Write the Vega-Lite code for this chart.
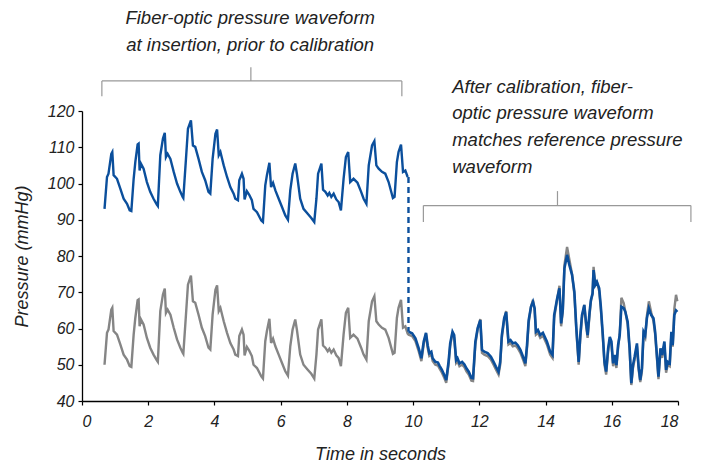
{
  "$schema": "https://vega.github.io/schema/vega-lite/v6.json",
  "autosize": {"type": "none"},
  "padding": {"left": 82, "top": 111, "right": 28, "bottom": 62},
  "width": 596,
  "height": 290,
  "background": "white",
  "config": {
    "view": {"stroke": null},
    "font": "Liberation Sans",
    "axis": {
      "grid": false,
      "domainColor": "#000000",
      "domainWidth": 1.3,
      "tickColor": "#000000",
      "tickWidth": 1.2,
      "tickSize": 4,
      "labelFont": "Liberation Sans",
      "labelFontStyle": "italic",
      "labelFontSize": 16,
      "labelColor": "#222222",
      "titleFont": "Liberation Sans",
      "titleFontStyle": "italic",
      "titleFontWeight": "normal",
      "titleFontSize": 18,
      "titleColor": "#222222"
    },
    "axisY": {"labelOverlap": false, "labelFlush": false, "labelBound": false}
  },
  "datasets": {
    "pre": [
      {"t":0.68,"p":93.0},{"t":0.755,"p":101.8},{"t":0.80,"p":102.7},{"t":0.885,"p":108.2},{"t":0.915,"p":108.7},{"t":0.955,"p":102.3},{"t":1.057,"p":101.3},{"t":1.157,"p":98.6},{"t":1.257,"p":95.8},{"t":1.36,"p":94.4},{"t":1.44,"p":92.6},{"t":1.49,"p":92.4},{"t":1.56,"p":101.3},{"t":1.61,"p":105.9},{"t":1.68,"p":110.8},{"t":1.71,"p":111.0},{"t":1.74,"p":103.6},{"t":1.78,"p":105.5},{"t":1.86,"p":104.1},{"t":1.96,"p":100.4},{"t":2.06,"p":97.7},{"t":2.16,"p":95.8},{"t":2.26,"p":94.2},{"t":2.29,"p":93.8},{"t":2.365,"p":107.8},{"t":2.445,"p":112.4},{"t":2.50,"p":114.0},{"t":2.535,"p":107.3},{"t":2.585,"p":108.2},{"t":2.67,"p":106.8},{"t":2.77,"p":103.2},{"t":2.87,"p":100.0},{"t":2.97,"p":97.7},{"t":3.04,"p":96.3},{"t":3.06,"p":96.0},{"t":3.14,"p":106.8},{"t":3.20,"p":115.1},{"t":3.29,"p":117.4},{"t":3.35,"p":110.5},{"t":3.42,"p":110.1},{"t":3.52,"p":106.8},{"t":3.62,"p":103.2},{"t":3.72,"p":100.9},{"t":3.82,"p":97.7},{"t":3.875,"p":97.2},{"t":3.945,"p":106.8},{"t":4.03,"p":113.7},{"t":4.08,"p":114.9},{"t":4.13,"p":107.8},{"t":4.18,"p":108.7},{"t":4.28,"p":105.0},{"t":4.38,"p":101.8},{"t":4.48,"p":99.0},{"t":4.58,"p":97.2},{"t":4.63,"p":95.8},{"t":4.71,"p":95.4},{"t":4.75,"p":100.9},{"t":4.83,"p":102.7},{"t":4.88,"p":101.3},{"t":4.91,"p":95.6},{"t":4.98,"p":97.9},{"t":5.05,"p":96.9},{"t":5.13,"p":95.4},{"t":5.18,"p":93.0},{"t":5.285,"p":92.1},{"t":5.415,"p":89.8},{"t":5.465,"p":89.4},{"t":5.535,"p":99.5},{"t":5.585,"p":102.3},{"t":5.66,"p":105.7},{"t":5.71,"p":99.0},{"t":5.77,"p":100.2},{"t":5.84,"p":98.1},{"t":5.94,"p":95.8},{"t":6.04,"p":93.5},{"t":6.14,"p":91.2},{"t":6.22,"p":90.0},{"t":6.29,"p":98.1},{"t":6.36,"p":102.7},{"t":6.44,"p":105.5},{"t":6.49,"p":102.7},{"t":6.59,"p":95.8},{"t":6.69,"p":93.0},{"t":6.81,"p":91.7},{"t":6.925,"p":90.5},{"t":7.015,"p":89.4},{"t":7.08,"p":95.8},{"t":7.13,"p":102.7},{"t":7.23,"p":105.5},{"t":7.28,"p":98.3},{"t":7.35,"p":97.7},{"t":7.42,"p":96.7},{"t":7.47,"p":97.4},{"t":7.53,"p":96.3},{"t":7.60,"p":97.2},{"t":7.68,"p":95.6},{"t":7.75,"p":94.9},{"t":7.82,"p":92.6},{"t":7.90,"p":101.3},{"t":7.97,"p":107.3},{"t":8.04,"p":108.7},{"t":8.10,"p":100.4},{"t":8.20,"p":101.3},{"t":8.32,"p":100.2},{"t":8.43,"p":97.7},{"t":8.505,"p":95.8},{"t":8.59,"p":94.4},{"t":8.66,"p":105.0},{"t":8.76,"p":110.5},{"t":8.83,"p":111.7},{"t":8.89,"p":105.0},{"t":8.96,"p":104.1},{"t":9.06,"p":103.2},{"t":9.16,"p":102.7},{"t":9.26,"p":100.4},{"t":9.39,"p":96.0},{"t":9.44,"p":96.3},{"t":9.51,"p":105.9},{"t":9.56,"p":108.7},{"t":9.635,"p":110.7},{"t":9.695,"p":103.2},{"t":9.765,"p":103.6},{"t":9.835,"p":101.8}
    ],
    "ref": [
      {"t":0.68,"p":50.0},{"t":0.755,"p":58.8},{"t":0.80,"p":59.7},{"t":0.885,"p":65.2},{"t":0.915,"p":65.7},{"t":0.955,"p":59.3},{"t":1.057,"p":58.3},{"t":1.157,"p":55.6},{"t":1.257,"p":52.8},{"t":1.36,"p":51.4},{"t":1.44,"p":49.6},{"t":1.49,"p":49.4},{"t":1.56,"p":58.3},{"t":1.61,"p":62.9},{"t":1.68,"p":67.8},{"t":1.71,"p":68.0},{"t":1.74,"p":60.6},{"t":1.78,"p":62.5},{"t":1.86,"p":61.1},{"t":1.96,"p":57.4},{"t":2.06,"p":54.7},{"t":2.16,"p":52.8},{"t":2.26,"p":51.2},{"t":2.29,"p":50.8},{"t":2.365,"p":64.8},{"t":2.445,"p":69.4},{"t":2.50,"p":71.0},{"t":2.535,"p":64.3},{"t":2.585,"p":65.2},{"t":2.67,"p":63.8},{"t":2.77,"p":60.2},{"t":2.87,"p":57.0},{"t":2.97,"p":54.7},{"t":3.04,"p":53.3},{"t":3.06,"p":53.0},{"t":3.14,"p":63.8},{"t":3.20,"p":72.1},{"t":3.29,"p":74.6},{"t":3.35,"p":67.5},{"t":3.42,"p":67.1},{"t":3.52,"p":63.8},{"t":3.62,"p":60.2},{"t":3.72,"p":57.9},{"t":3.82,"p":54.7},{"t":3.875,"p":54.2},{"t":3.945,"p":63.8},{"t":4.03,"p":70.7},{"t":4.08,"p":71.9},{"t":4.13,"p":64.8},{"t":4.18,"p":65.7},{"t":4.28,"p":62.0},{"t":4.38,"p":58.8},{"t":4.48,"p":56.0},{"t":4.58,"p":54.2},{"t":4.63,"p":52.8},{"t":4.71,"p":52.4},{"t":4.75,"p":57.9},{"t":4.83,"p":59.7},{"t":4.88,"p":58.3},{"t":4.91,"p":52.6},{"t":4.98,"p":54.9},{"t":5.05,"p":53.9},{"t":5.13,"p":52.4},{"t":5.18,"p":50.0},{"t":5.285,"p":49.1},{"t":5.415,"p":46.8},{"t":5.465,"p":46.2},{"t":5.535,"p":56.5},{"t":5.585,"p":59.3},{"t":5.66,"p":62.7},{"t":5.71,"p":56.0},{"t":5.77,"p":57.2},{"t":5.84,"p":55.1},{"t":5.94,"p":52.8},{"t":6.04,"p":50.5},{"t":6.14,"p":48.2},{"t":6.22,"p":47.0},{"t":6.29,"p":55.1},{"t":6.36,"p":59.7},{"t":6.44,"p":62.5},{"t":6.49,"p":59.7},{"t":6.59,"p":52.8},{"t":6.69,"p":50.0},{"t":6.81,"p":48.7},{"t":6.925,"p":47.5},{"t":7.015,"p":46.2},{"t":7.08,"p":52.8},{"t":7.13,"p":59.7},{"t":7.23,"p":62.5},{"t":7.28,"p":55.3},{"t":7.35,"p":54.7},{"t":7.42,"p":53.7},{"t":7.47,"p":54.4},{"t":7.53,"p":53.3},{"t":7.60,"p":54.2},{"t":7.68,"p":52.6},{"t":7.75,"p":51.9},{"t":7.82,"p":49.6},{"t":7.90,"p":58.3},{"t":7.97,"p":64.3},{"t":8.04,"p":65.7},{"t":8.10,"p":57.4},{"t":8.20,"p":58.3},{"t":8.32,"p":57.2},{"t":8.43,"p":54.7},{"t":8.505,"p":52.8},{"t":8.59,"p":51.4},{"t":8.66,"p":62.0},{"t":8.76,"p":67.5},{"t":8.83,"p":68.9},{"t":8.89,"p":62.0},{"t":8.96,"p":61.1},{"t":9.06,"p":60.2},{"t":9.16,"p":59.7},{"t":9.26,"p":57.4},{"t":9.39,"p":53.0},{"t":9.44,"p":53.3},{"t":9.51,"p":62.9},{"t":9.56,"p":65.7},{"t":9.635,"p":67.9},{"t":9.695,"p":60.2},{"t":9.765,"p":60.6},{"t":9.835,"p":58.6},
      {"t":9.865,"p":58.3},{"t":9.97,"p":57.9},{"t":10.07,"p":56.5},{"t":10.17,"p":53.7},{"t":10.25,"p":51.0},{"t":10.32,"p":55.6},{"t":10.39,"p":58.6},{"t":10.44,"p":54.6},{"t":10.49,"p":52.4},{"t":10.55,"p":52.8},{"t":10.59,"p":51.0},{"t":10.67,"p":50.0},{"t":10.75,"p":49.8},{"t":10.80,"p":48.9},{"t":10.87,"p":47.8},{"t":10.94,"p":46.4},{"t":11.00,"p":45.0},{"t":11.07,"p":50.0},{"t":11.12,"p":55.1},{"t":11.19,"p":59.0},{"t":11.24,"p":57.4},{"t":11.30,"p":50.5},{"t":11.34,"p":51.0},{"t":11.40,"p":49.6},{"t":11.48,"p":50.0},{"t":11.55,"p":49.3},{"t":11.61,"p":48.2},{"t":11.68,"p":47.3},{"t":11.76,"p":45.6},{"t":11.81,"p":45.5},{"t":11.88,"p":55.6},{"t":11.95,"p":59.8},{"t":12.03,"p":62.6},{"t":12.08,"p":53.3},{"t":12.15,"p":52.8},{"t":12.25,"p":52.4},{"t":12.35,"p":51.4},{"t":12.43,"p":50.0},{"t":12.50,"p":48.7},{"t":12.58,"p":47.3},{"t":12.63,"p":50.0},{"t":12.68,"p":57.4},{"t":12.75,"p":62.5},{"t":12.81,"p":64.8},{"t":12.88,"p":55.6},{"t":12.94,"p":56.0},{"t":13.01,"p":55.1},{"t":13.09,"p":55.3},{"t":13.16,"p":54.6},{"t":13.24,"p":53.3},{"t":13.32,"p":51.4},{"t":13.39,"p":49.6},{"t":13.44,"p":54.6},{"t":13.49,"p":61.5},{"t":13.56,"p":66.0},{"t":13.62,"p":67.9},{"t":13.67,"p":65.0},{"t":13.71,"p":58.3},{"t":13.77,"p":58.8},{"t":13.84,"p":57.4},{"t":13.92,"p":58.0},{"t":14.04,"p":55.6},{"t":14.14,"p":52.8},{"t":14.21,"p":51.9},{"t":14.26,"p":62.9},{"t":14.35,"p":68.0},{"t":14.42,"p":71.8},{"t":14.47,"p":60.6},{"t":14.52,"p":64.5},{"t":14.57,"p":77.5},{"t":14.65,"p":82.5},{"t":14.72,"p":79.0},{"t":14.80,"p":75.0},{"t":14.87,"p":69.4},{"t":14.93,"p":59.3},{"t":15.00,"p":50.0},{"t":15.05,"p":57.4},{"t":15.10,"p":62.9},{"t":15.17,"p":66.5},{"t":15.22,"p":61.1},{"t":15.27,"p":57.4},{"t":15.33,"p":63.8},{"t":15.37,"p":67.5},{"t":15.42,"p":69.5},{"t":15.45,"p":77.0},{"t":15.50,"p":72.3},{"t":15.55,"p":72.8},{"t":15.62,"p":70.3},{"t":15.67,"p":65.2},{"t":15.73,"p":57.4},{"t":15.78,"p":50.0},{"t":15.83,"p":47.3},{"t":15.89,"p":53.7},{"t":15.94,"p":56.9},{"t":15.99,"p":55.6},{"t":16.04,"p":49.6},{"t":16.09,"p":51.9},{"t":16.14,"p":49.1},{"t":16.19,"p":54.6},{"t":16.24,"p":58.5},{"t":16.29,"p":68.5},{"t":16.36,"p":67.0},{"t":16.41,"p":64.6},{"t":16.48,"p":61.1},{"t":16.54,"p":53.7},{"t":16.59,"p":44.4},{"t":16.64,"p":49.1},{"t":16.69,"p":51.4},{"t":16.76,"p":55.1},{"t":16.81,"p":48.7},{"t":16.86,"p":45.2},{"t":16.91,"p":48.2},{"t":16.96,"p":58.3},{"t":17.01,"p":57.4},{"t":17.06,"p":63.5},{"t":17.12,"p":67.5},{"t":17.19,"p":64.5},{"t":17.26,"p":62.0},{"t":17.31,"p":58.3},{"t":17.37,"p":51.0},{"t":17.41,"p":46.0},{"t":17.47,"p":53.7},{"t":17.52,"p":51.9},{"t":17.59,"p":55.6},{"t":17.64,"p":47.8},{"t":17.69,"p":50.0},{"t":17.75,"p":49.6},{"t":17.80,"p":58.3},{"t":17.84,"p":55.0},{"t":17.89,"p":65.5},{"t":17.94,"p":69.3},{"t":17.98,"p":67.5}
    ],
    "post": [
      {"t":9.865,"p":59.1},{"t":9.97,"p":58.7},{"t":10.07,"p":57.3},{"t":10.17,"p":54.5},{"t":10.25,"p":51.8},{"t":10.32,"p":56.4},{"t":10.39,"p":58.8},{"t":10.44,"p":55.4},{"t":10.49,"p":53.2},{"t":10.55,"p":53.6},{"t":10.59,"p":51.8},{"t":10.67,"p":50.8},{"t":10.75,"p":50.6},{"t":10.80,"p":49.7},{"t":10.87,"p":48.6},{"t":10.94,"p":47.2},{"t":11.00,"p":45.8},{"t":11.07,"p":50.8},{"t":11.12,"p":55.9},{"t":11.19,"p":59.1},{"t":11.24,"p":58.2},{"t":11.30,"p":51.3},{"t":11.34,"p":51.8},{"t":11.40,"p":50.4},{"t":11.48,"p":50.8},{"t":11.55,"p":50.1},{"t":11.61,"p":49.0},{"t":11.68,"p":48.1},{"t":11.76,"p":46.4},{"t":11.81,"p":46.3},{"t":11.88,"p":56.4},{"t":11.95,"p":60.1},{"t":12.03,"p":62.3},{"t":12.08,"p":54.1},{"t":12.15,"p":53.6},{"t":12.25,"p":53.2},{"t":12.35,"p":52.2},{"t":12.43,"p":50.8},{"t":12.50,"p":49.5},{"t":12.58,"p":48.1},{"t":12.63,"p":50.8},{"t":12.68,"p":58.2},{"t":12.75,"p":62.8},{"t":12.81,"p":64.5},{"t":12.88,"p":56.4},{"t":12.94,"p":56.8},{"t":13.01,"p":55.9},{"t":13.09,"p":56.1},{"t":13.16,"p":55.4},{"t":13.24,"p":54.1},{"t":13.32,"p":52.2},{"t":13.39,"p":50.4},{"t":13.44,"p":55.4},{"t":13.49,"p":62.3},{"t":13.56,"p":66.0},{"t":13.62,"p":67.4},{"t":13.67,"p":65.6},{"t":13.71,"p":59.1},{"t":13.77,"p":59.6},{"t":13.84,"p":58.2},{"t":13.92,"p":58.8},{"t":14.04,"p":56.4},{"t":14.14,"p":53.6},{"t":14.21,"p":52.7},{"t":14.26,"p":63.7},{"t":14.35,"p":68.3},{"t":14.42,"p":71.1},{"t":14.47,"p":61.4},{"t":14.52,"p":65.1},{"t":14.57,"p":76.6},{"t":14.65,"p":80.3},{"t":14.72,"p":77.5},{"t":14.80,"p":74.8},{"t":14.87,"p":70.2},{"t":14.93,"p":60.1},{"t":15.00,"p":50.8},{"t":15.05,"p":58.2},{"t":15.10,"p":63.7},{"t":15.17,"p":66.5},{"t":15.22,"p":61.9},{"t":15.27,"p":58.2},{"t":15.33,"p":64.6},{"t":15.37,"p":67.9},{"t":15.42,"p":69.7},{"t":15.45,"p":76.1},{"t":15.50,"p":72.0},{"t":15.55,"p":72.9},{"t":15.62,"p":71.1},{"t":15.67,"p":66.0},{"t":15.73,"p":58.2},{"t":15.78,"p":50.8},{"t":15.83,"p":48.1},{"t":15.89,"p":54.5},{"t":15.94,"p":57.7},{"t":15.99,"p":56.4},{"t":16.04,"p":50.4},{"t":16.09,"p":52.7},{"t":16.14,"p":49.9},{"t":16.19,"p":55.4},{"t":16.24,"p":58.2},{"t":16.29,"p":66.0},{"t":16.36,"p":65.6},{"t":16.41,"p":64.6},{"t":16.48,"p":61.9},{"t":16.54,"p":54.5},{"t":16.59,"p":44.9},{"t":16.64,"p":49.9},{"t":16.69,"p":52.2},{"t":16.76,"p":55.9},{"t":16.81,"p":49.5},{"t":16.86,"p":45.8},{"t":16.91,"p":49.0},{"t":16.96,"p":59.1},{"t":17.01,"p":58.2},{"t":17.06,"p":62.8},{"t":17.12,"p":65.6},{"t":17.19,"p":63.7},{"t":17.26,"p":62.8},{"t":17.31,"p":59.1},{"t":17.37,"p":51.8},{"t":17.41,"p":46.7},{"t":17.47,"p":54.5},{"t":17.52,"p":52.7},{"t":17.59,"p":56.4},{"t":17.64,"p":48.6},{"t":17.69,"p":50.8},{"t":17.75,"p":50.4},{"t":17.80,"p":59.1},{"t":17.84,"p":55.4},{"t":17.89,"p":63.7},{"t":17.94,"p":65.0},{"t":17.98,"p":64.6}
    ],
    "dash": [
      {"t":9.86,"p":101.8},{"t":9.86,"p":59.1}
    ],
    "brackets": [
      {"x1":0.60,"x2":9.66,"y1":128.3,"y2":128.3},
      {"x1":0.60,"x2":0.60,"y1":128.3,"y2":124.1},
      {"x1":9.66,"x2":9.66,"y1":128.3,"y2":124.1},
      {"x1":5.10,"x2":5.10,"y1":128.3,"y2":132.1},
      {"x1":10.31,"x2":18.39,"y1":93.9,"y2":93.9},
      {"x1":10.31,"x2":10.31,"y1":93.9,"y2":89.4},
      {"x1":18.39,"x2":18.39,"y1":93.9,"y2":89.4},
      {"x1":14.36,"x2":14.36,"y1":93.9,"y2":97.9}
    ],
    "note1": [
      {"x":5.08,"y":145.7,"label":"Fiber-optic pressure waveform"},
      {"x":5.08,"y":138.2,"label":"at insertion, prior to calibration"}
    ],
    "note2": [
      {"x":11.18,"y":126.7,"label":"After calibration, fiber-"},
      {"x":11.18,"y":119.4,"label":"optic pressure waveform"},
      {"x":11.18,"y":112.0,"label":"matches reference pressure"},
      {"x":11.18,"y":104.6,"label":"waveform"}
    ]
  },
  "layer": [
    {
      "data": {"name": "ref"},
      "mark": {"type": "line", "color": "#858585", "strokeWidth": 2.4},
      "encoding": {
        "x": {"field": "t", "type": "quantitative", "scale": {"domain": [0, 18], "nice": false},
              "axis": {"values": [0,2,4,6,8,10,12,14,16,18], "title": "Time in seconds", "labelPadding": 8, "titlePadding": 16, "labelOverlap": false}},
        "y": {"field": "p", "type": "quantitative", "scale": {"domain": [40, 120], "nice": false, "zero": false},
              "axis": {"tickCount": 8, "title": "Pressure (mmHg)", "labelPadding": 4, "titlePadding": 16}}
      }
    },
    {
      "data": {"name": "pre"},
      "mark": {"type": "line", "color": "#0b4f9c", "strokeWidth": 2.4},
      "encoding": {
        "x": {"field": "t", "type": "quantitative"},
        "y": {"field": "p", "type": "quantitative"}
      }
    },
    {
      "data": {"name": "post"},
      "mark": {"type": "line", "color": "#0b4f9c", "strokeWidth": 2.6},
      "encoding": {
        "x": {"field": "t", "type": "quantitative"},
        "y": {"field": "p", "type": "quantitative"}
      }
    },
    {
      "data": {"name": "dash"},
      "mark": {"type": "line", "color": "#0b4f9c", "strokeWidth": 2.4, "strokeDash": [6, 4]},
      "encoding": {
        "x": {"field": "t", "type": "quantitative"},
        "y": {"field": "p", "type": "quantitative"}
      }
    },
    {
      "data": {"name": "brackets"},
      "mark": {"type": "rule", "color": "#999999", "strokeWidth": 1.2},
      "encoding": {
        "x": {"field": "x1", "type": "quantitative"},
        "x2": {"field": "x2"},
        "y": {"field": "y1", "type": "quantitative"},
        "y2": {"field": "y2"}
      }
    },
    {
      "data": {"name": "note1"},
      "mark": {"type": "text", "align": "center", "baseline": "middle", "font": "Liberation Sans", "fontStyle": "italic", "fontSize": 18.5, "color": "#222222"},
      "encoding": {
        "x": {"field": "x", "type": "quantitative"},
        "y": {"field": "y", "type": "quantitative"},
        "text": {"field": "label"}
      }
    },
    {
      "data": {"name": "note2"},
      "mark": {"type": "text", "align": "left", "baseline": "middle", "font": "Liberation Sans", "fontStyle": "italic", "fontSize": 18.5, "color": "#222222"},
      "encoding": {
        "x": {"field": "x", "type": "quantitative"},
        "y": {"field": "y", "type": "quantitative"},
        "text": {"field": "label"}
      }
    }
  ]
}
